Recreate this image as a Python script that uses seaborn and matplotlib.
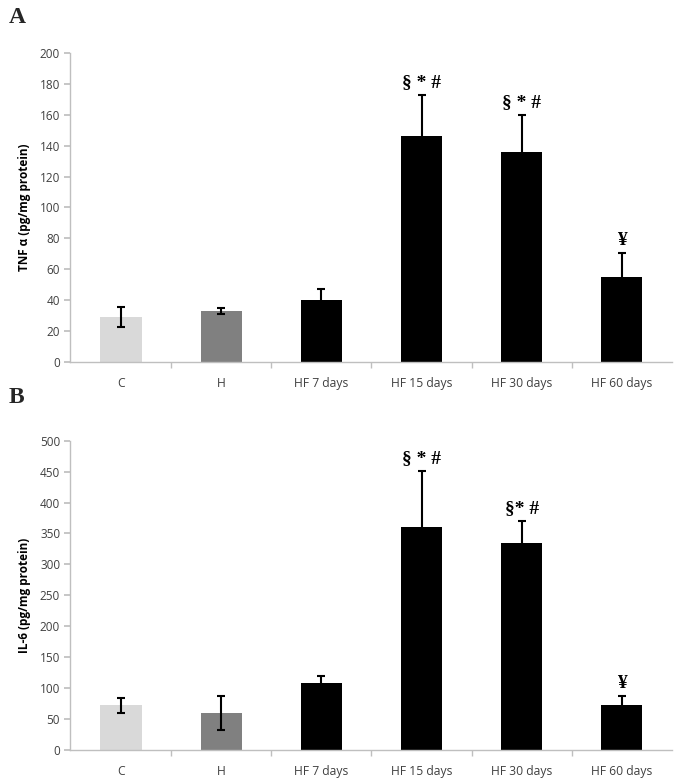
import matplotlib
matplotlib.use("Agg")
import matplotlib.pyplot as plt
import seaborn as sns
import numpy as np
import pandas as pd

groups = ["C", "H", "HF 7 days", "HF 15 days", "HF 30 days", "HF 60 days"]
bar_colors = ["#D9D9D9", "#808080", "#000000", "#000000", "#000000", "#000000"]

tnf_mean = [29, 33, 40, 146, 136, 55]
tnf_err = [6.7, 2, 7, 27, 24, 15.5]
tnf_marks = ["", "", "", "§ * #", "§ * #", "¥"]

il6_mean = [72, 60, 109, 360, 335, 72]
il6_err = [12, 28, 11, 91, 35, 15]
il6_marks = ["", "", "", "§ * #", "§* #", "¥"]

sns.set_theme(style="white")
plt.rcParams['font.family'] = ['Open Sans', 'DejaVu Sans']

fig = plt.figure(figsize=(6.85, 7.8), dpi=100)
ax_a = fig.add_axes([0.102, 0.536, 0.879, 0.396])
ax_b = fig.add_axes([0.102, 0.0385, 0.879, 0.3965])

spine_col = "#BFBFBF"
text_col = "#404040"


def panel(ax, means, errs, marks, ylabel, ymax, ystep, letter, letter_y):
    df = pd.DataFrame({"group": groups, "value": means})
    sns.barplot(data=df, x="group", y="value", hue="group", palette=bar_colors,
                width=0.41, legend=False, ax=ax, saturation=1, linewidth=0)
    ax.errorbar(np.arange(len(groups)), means, yerr=errs, fmt="none",
                ecolor="black", elinewidth=1.5, capsize=3, capthick=1.5)
    for i, m in enumerate(marks):
        if m:
            ax.annotate(m, (i, means[i] + errs[i]), xytext=(0, 3),
                        textcoords="offset points", ha="center", va="bottom",
                        fontsize=14, fontweight="bold", family="Liberation Serif",
                        color="black")
    ax.set_xlim(-0.51, 5.5)
    ax.set_ylim(0, ymax)
    ax.set_yticks(np.arange(0, ymax + 1, ystep))
    ax.set_xlabel("")
    ax.set_ylabel(ylabel, fontsize=8.5, fontweight="bold", color="black", labelpad=6)
    for s in ["top", "right"]:
        ax.spines[s].set_visible(False)
    for s in ["left", "bottom"]:
        ax.spines[s].set_color(spine_col)
        ax.spines[s].set_linewidth(1)
    ax.tick_params(axis="y", left=True, length=4, color=spine_col, labelsize=8.5,
                   labelcolor=text_col, pad=3)
    ax.tick_params(axis="x", bottom=False, labelsize=8.7, labelcolor=text_col, pad=5)
    ax.set_xticks(np.arange(0.5, 5.5, 1), minor=True)
    ax.tick_params(axis="x", which="minor", bottom=True, length=4, color=spine_col)
    fig.text(0.013, letter_y, letter, fontsize=17, fontweight="bold",
             family="Liberation Serif", ha="left", va="center")


panel(ax_a, tnf_mean, tnf_err, tnf_marks, "TNF α (pg/mg protein)", 200, 20, "A", 0.977)
panel(ax_b, il6_mean, il6_err, il6_marks, "IL-6 (pg/mg protein)", 500, 50, "B", 0.49)

fig.savefig("out.png", dpi=100)
